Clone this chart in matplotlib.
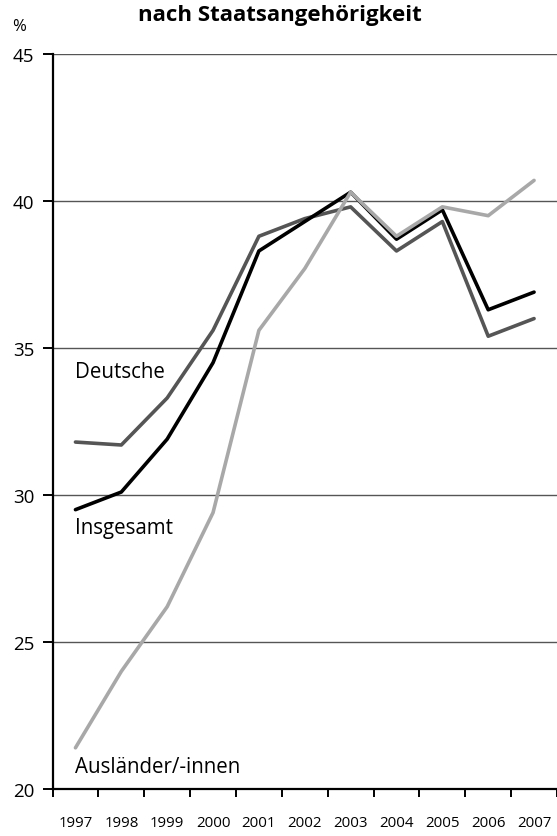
import matplotlib
matplotlib.use("Agg")
import matplotlib.pyplot as plt

# Data
years = ["1997", "1998", "1999", "2000", "2001", "2002", "2003", "2004", "2005", "2006", "2007"]
insgesamt = [29.5, 30.1, 31.9, 34.5, 38.3, 39.3, 40.3, 38.7, 39.7, 36.3, 36.9]
deutsche = [31.8, 31.7, 33.3, 35.6, 38.8, 39.4, 39.8, 38.3, 39.3, 35.4, 36.0]
auslaender = [21.4, 24.0, 26.2, 29.4, 35.6, 37.7, 40.3, 38.8, 39.8, 39.5, 40.7]
y_ticks = [20, 25, 30, 35, 40, 45]

plt.rcParams["font.family"] = ["Open Sans", "DejaVu Sans"]

fig = plt.figure(figsize=(5.57, 8.37), dpi=100)
ax = fig.add_axes([0.0943, 0.0562, 0.9057, 0.8781])

x = list(range(len(years)))

# gridlines
for v in y_ticks[1:]:
    ax.axhline(v, color="#555555", lw=1.0, zorder=1)

ax.plot(x, deutsche, color="#555555", lw=2.6, zorder=3, solid_capstyle="round")
ax.plot(x, insgesamt, color="#000000", lw=2.6, zorder=4, solid_capstyle="round")
ax.plot(x, auslaender, color="#a8a8a8", lw=2.6, zorder=5, solid_capstyle="round")

ax.set_xlim(-0.5, len(years) - 0.5)
ax.set_ylim(20, 45)

# year labels at the points, tick marks between them
ax.set_xticks(x)
ax.set_xticklabels(years, fontsize=10.8)
ax.set_xticks([i - 0.5 for i in range(len(years) + 1)], minor=True)
ax.tick_params(axis="x", which="major", length=0, pad=19)
ax.tick_params(axis="x", which="minor", length=6, width=1.4, direction="out")

ax.set_yticks(y_ticks)
ax.set_yticklabels([str(v) for v in y_ticks], fontsize=13.5)
ax.tick_params(axis="y", length=7, width=1.4, pad=6)

for side in ["top", "right"]:
    ax.spines[side].set_visible(False)
ax.spines["left"].set_linewidth(1.6)
ax.spines["bottom"].set_linewidth(1.6)

ax.text(0.0, 34.2, "Deutsche", fontsize=14.8, va="center", ha="left")
ax.text(0.0, 28.9, "Insgesamt", fontsize=14.8, va="center", ha="left")
ax.text(0.0, 20.78, "Ausländer/-innen", fontsize=14.8, va="center", ha="left")

fig.text(0.503, 0.981, "nach Staatsangehörigkeit", fontsize=16, fontweight="bold",
         ha="center", va="center")
fig.text(0.034, 0.968, "%", fontsize=12, ha="center", va="center")

fig.savefig("out.png", dpi=100)
